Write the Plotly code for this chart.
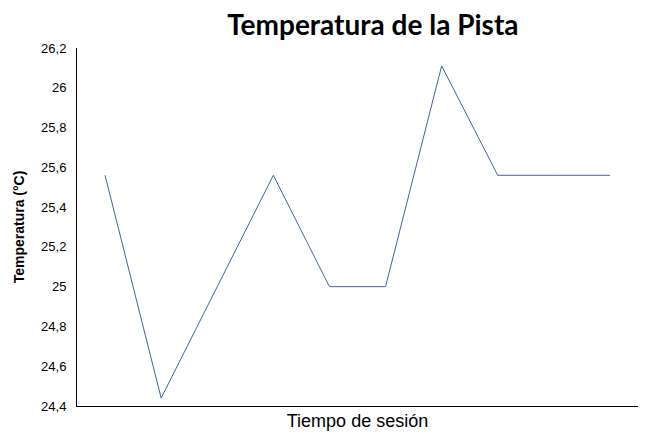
import plotly.graph_objects as go

sessions = list(range(10))
temps_c = [25.56, 24.44, 25.0, 25.56, 25.0, 25.0, 26.11, 25.56, 25.56, 25.56]

title_text = "Temperatura de la Pista"
x_title = "Tiempo de sesión"
y_title = "Temperatura (°C)"

fig = go.Figure()
fig.add_trace(go.Scatter(
    x=sessions, y=temps_c, mode="lines",
    line=dict(color="#3b66a3", width=1),
    hoverinfo="y",
))

fig.update_layout(
    width=639, height=426,
    margin=dict(l=69, r=9, t=40, b=28, autoexpand=False),
    paper_bgcolor="white", plot_bgcolor="white",
    separators=",.",
    showlegend=False,
    title=dict(text="<b>" + title_text + "</b>", x=0.571, xanchor="center",
               y=0.96, yanchor="middle", automargin=False,
               font=dict(family="Lato, Inter, sans-serif", size=28, color="black")),
    font=dict(family="Liberation Sans, Arial, sans-serif", color="black"),
)
fig.update_xaxes(
    range=[-0.5, 9.5], showticklabels=False, ticks="", showgrid=False,
    zeroline=False, showline=True, linecolor="black", linewidth=1,
    automargin=False,
    title=dict(text=x_title, font=dict(size=18), standoff=8),
)
fig.update_yaxes(
    range=[24.4, 26.2], dtick=0.2, tick0=24.4, showgrid=False, zeroline=False,
    showline=True, linecolor="black", linewidth=1, ticks="",
    tickfont=dict(size=13), ticklabelstandoff=7, automargin=False,
    title=dict(text="<b>" + y_title + "</b>", font=dict(size=14), standoff=13),
)

fig.write_html("out.html")
